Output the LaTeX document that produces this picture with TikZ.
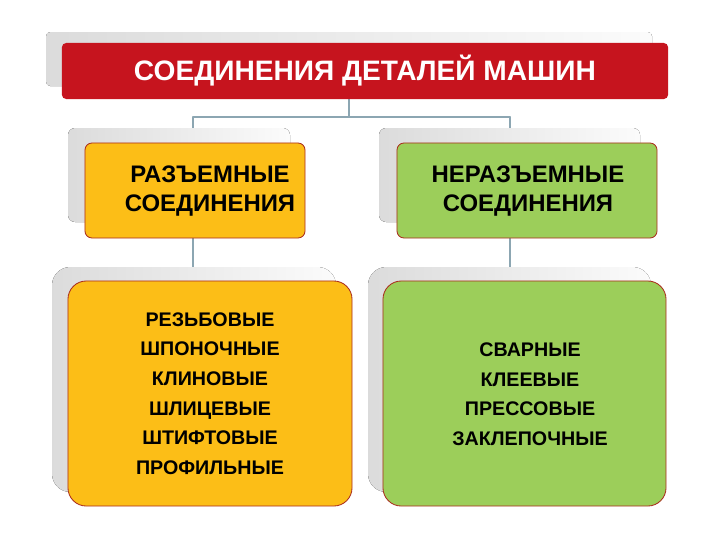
\documentclass[tikz,border=0pt]{standalone}
\usepackage{fontspec}
\setmainfont{Liberation Sans}
\usepackage{tikz}
\usetikzlibrary{positioning}

\definecolor{titlered}{RGB}{198,20,30}
\definecolor{boxyellow}{RGB}{252,190,23}
\definecolor{boxgreen}{RGB}{156,206,90}
\definecolor{rimred}{RGB}{170,45,30}
\definecolor{linkgray}{RGB}{140,166,178}

\begin{document}
\begin{tikzpicture}[line cap=round,line join=round,x=0.025cm,y=-0.025cm]
\useasboundingbox (0,0) rectangle (720,540);

\tikzstyle{shadowbox}= [left color=gray!28, right color=gray!3, draw=none];
\tikzstyle{link}= [line width=1.2pt, color=linkgray];
\tikzstyle{headbox}= [draw=rimred, line width=0.6pt, rounded corners=5pt, minimum height=2.375cm];
\tikzstyle{listbox}= [draw=rimred, line width=0.6pt, rounded corners=13pt, minimum height=5.625cm,
  align=center, font=\fontsize{14}{21}\selectfont\bfseries];
\tikzstyle{headtext}= [align=center, font=\fontsize{17}{20}\selectfont\bfseries];

%connectors first, the shadows hide their ends
\coordinate (stem) at (349,99);
\coordinate (hub) at (349,117);
\coordinate (forkL) at (193,117);
\coordinate (forkR) at (510,117);
\coordinate (endL) at (193,140);
\coordinate (endR) at (510,140);
\coordinate (dropL) at (193,238);
\coordinate (dropR) at (510,238);
\coordinate (footL) at (193,275);
\coordinate (footR) at (510,275);
\draw [link] (stem) -- (hub);
\draw [link] (forkL) -- (forkR);
\draw [link] (forkL) -- (endL);
\draw [link] (forkR) -- (endR);
\draw [link] (dropL) -- (footL);
\draw [link] (dropR) -- (footR);

%shadows
\fill [shadowbox, rounded corners=3pt] (46,32) rectangle (652,86);
\fill [shadowbox, rounded corners=5pt] (68,128) rectangle (290,222);
\fill [shadowbox, rounded corners=5pt] (379,128) rectangle (640,222);
\fill [shadowbox, rounded corners=13pt] (52,267) rectangle (336,492);
\fill [shadowbox, rounded corners=13pt] (368,267) rectangle (651,492);

%title
\node [fill=titlered, rounded corners=3pt, minimum width=15.15cm, minimum height=1.4cm,
  text=white, font=\fontsize{20}{22}\selectfont\bfseries] (title) at (365,71) {СОЕДИНЕНИЯ ДЕТАЛЕЙ МАШИН};

%second row
\node [headbox, fill=boxyellow, minimum width=5.5cm] (split) at (195,190.5) {};
\node [headtext] (splittext) at (210,191) {РАЗЪЕМНЫЕ\\СОЕДИНЕНИЯ};
\node [headbox, fill=boxgreen, minimum width=6.5cm] (fixed) at (527,190.5) {};
\node [headtext] (fixedtext) at (528,191) {НЕРАЗЪЕМНЫЕ\\СОЕДИНЕНИЯ};

%lists
\node [listbox, fill=boxyellow, minimum width=7.1cm] (splitlist) at (210,393.5)
  {РЕЗЬБОВЫЕ\\ШПОНОЧНЫЕ\\КЛИНОВЫЕ\\ШЛИЦЕВЫЕ\\ШТИФТОВЫЕ\\ПРОФИЛЬНЫЕ};
\node [listbox, fill=boxgreen, minimum width=7.075cm] (fixedlist) at (524.5,393.5) {};
\node [listbox, draw=none, minimum height=0pt] (fixedtext2) at (530,394)
  {СВАРНЫЕ\\КЛЕЕВЫЕ\\ПРЕССОВЫЕ\\ЗАКЛЕПОЧНЫЕ};
\end{tikzpicture}
\end{document}
